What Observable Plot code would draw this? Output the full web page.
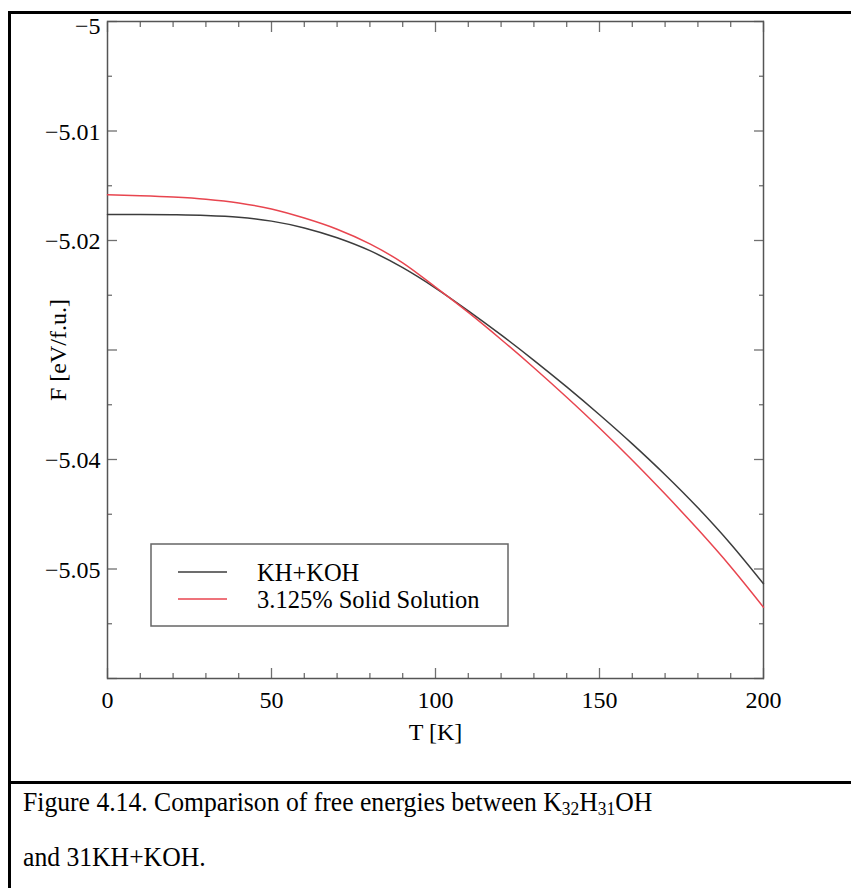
<!DOCTYPE html>
<html><head><meta charset="utf-8">
<script src="https://cdn.jsdelivr.net/npm/d3@7"></script>
<script src="https://cdn.jsdelivr.net/npm/@observablehq/plot@0.6"></script>
<style>
body{margin:0;background:#fff;font-family:"Liberation Serif","Times New Roman",serif;}
#wrap{position:relative;width:851px;height:888px;overflow:hidden;background:#fff;}
#chart{position:absolute;left:0;top:0;}
#border{position:absolute;left:8px;top:11px;width:900px;height:900px;border:3px solid #000;box-sizing:border-box;}
#sep{position:absolute;left:8px;top:781px;width:900px;height:3px;background:#000;}
#legend{position:absolute;left:0;top:0;}
#caption{position:absolute;left:23px;top:775px;font-size:27px;line-height:55px;color:#000;white-space:nowrap;transform:scaleX(0.95);transform-origin:0 0;}
#caption sub{font-size:0.68em;vertical-align:-0.22em;line-height:0;}
</style></head>
<body>
<div id="wrap">
  <div id="chart"></div>
  <svg id="legend" width="851" height="888"></svg>
  <div id="border"></div>
  <div id="sep"></div>
  <div id="caption">Figure 4.14. Comparison of free energies between K<sub>32</sub>H<sub>31</sub>OH<br>and 31KH+KOH.</div>
</div>
<script>
// ---- data ----
const temps = [0,10,20,30,40,50,60,70,80,90,100,110,120,130,140,150,160,170,180,190,200];
const fKH = [-5.01763,-5.01763,-5.01765,-5.01771,-5.01787,-5.01823,-5.01885,-5.01975,-5.02093,-5.02248,-5.02434,-5.02642,-5.02862,-5.03094,-5.03337,-5.03591,-5.03857,-5.04139,-5.04441,-5.04771,-5.05135];
const fSS = [-5.01583,-5.01591,-5.01603,-5.01623,-5.01657,-5.01712,-5.01795,-5.01897,-5.02031,-5.02204,-5.02426,-5.02657,-5.02904,-5.03162,-5.03432,-5.03713,-5.04007,-5.04316,-5.04638,-5.04979,-5.05349];
const seriesNames = ["KH+KOH", "3.125% Solid Solution"];
const seriesColors = ["#3c3c3c", "#e8454f"];
const xMajor = [0,50,100,150,200];
const xMinor = [10,20,30,40,60,70,80,90,110,120,130,140,160,170,180,190];
const xLabels = [0,50,100,150,200];
const yMajor = [-5,-5.01,-5.02,-5.03,-5.04,-5.05,-5.06];
const yMinor = [-5.005,-5.015,-5.025,-5.035,-5.045,-5.055];
const yLabelsTop = [-5];
const yLabels = [-5.01,-5.02,-5.04,-5.05];
const xTitle = "T [K]";
const yTitle = "F [eV/f.u.]";

const rows = temps.flatMap((t,i)=>[
  {T:t, F:fKH[i], s:seriesNames[0]},
  {T:t, F:fSS[i], s:seriesNames[1]}
]);
const fmt = d => String(d).replace("-", "\u2212");
const tickStroke = "#707070";
const FONT = "'Liberation Serif','Times New Roman',serif";

const tk = {text:null, stroke:tickStroke, strokeWidth:1.3, label:null};
const txt = {fontSize:24, fontFamily:FONT, fill:"#000"};
const chart = Plot.plot({
  width: 851, height: 782,
  marginLeft: 107, marginTop: 21, marginRight: 88, marginBottom: 104,
  style: {fontFamily: FONT, fontSize: "24px", color: "#000", background: "transparent", overflow: "visible"},
  x: {domain: [0,200]},
  y: {domain: [-5.06,-5]},
  color: {domain: seriesNames, range: seriesColors},
  marks: [
    Plot.axisX({anchor:"bottom", ticks:xMinor, tickSize:-5, ...tk}),
    Plot.axisX({anchor:"bottom", ticks:xMajor, tickSize:-10, ...tk}),
    Plot.axisX({anchor:"top", ticks:xMinor, tickSize:-5, ...tk}),
    Plot.axisX({anchor:"top", ticks:xMajor, tickSize:-10, ...tk}),
    Plot.axisY({anchor:"left", ticks:yMinor, tickSize:-5, ...tk}),
    Plot.axisY({anchor:"left", ticks:yMajor, tickSize:-10, ...tk}),
    Plot.axisY({anchor:"right", ticks:yMinor, tickSize:-5, ...tk}),
    Plot.axisY({anchor:"right", ticks:yMajor, tickSize:-10, ...tk}),
    // tick labels
    Plot.text(xLabels, {x: d=>d, frameAnchor:"bottom", lineAnchor:"top", dy:12, text: fmt, ...txt}),
    Plot.text(yLabels, {y: d=>d, frameAnchor:"left", textAnchor:"end", dx:-7, dy:1, text: fmt, ...txt}),
    Plot.text(yLabelsTop, {y: d=>d, frameAnchor:"left", textAnchor:"end", dx:-7, dy:5, text: fmt, ...txt}),
    // axis titles
    Plot.text([xTitle], {frameAnchor:"bottom", lineAnchor:"top", textAnchor:"middle", dy:44, text: d=>d, ...txt}),
    Plot.text([yTitle], {frameAnchor:"left", rotate:-90, lineAnchor:"top", textAnchor:"middle", dx:-59, text: d=>d, ...txt}),
    Plot.frame({stroke:"#555", strokeWidth:1.5}),
    Plot.line(rows, {x:"T", y:"F", z:"s", stroke:"s", curve:"monotone-x", strokeWidth:1.5})
  ]
});
document.getElementById("chart").appendChild(chart);

// ---- legend ----
const lg = d3.select("#legend");
lg.append("rect").attr("x",151).attr("y",544).attr("width",357).attr("height",82)
  .attr("fill","#fff").attr("stroke","#666").attr("stroke-width",1.5);
seriesNames.forEach((name,i)=>{
  const cy = 572 + i*27;
  lg.append("line").attr("x1",178).attr("x2",227).attr("y1",cy).attr("y2",cy)
    .attr("stroke",seriesColors[i]).attr("stroke-width",1.5);
  lg.append("text").attr("x",257).attr("y",cy+9).text(name)
    .attr("font-family",FONT).attr("font-size",24.5).attr("fill","#000");
});
</script>
</body></html>
